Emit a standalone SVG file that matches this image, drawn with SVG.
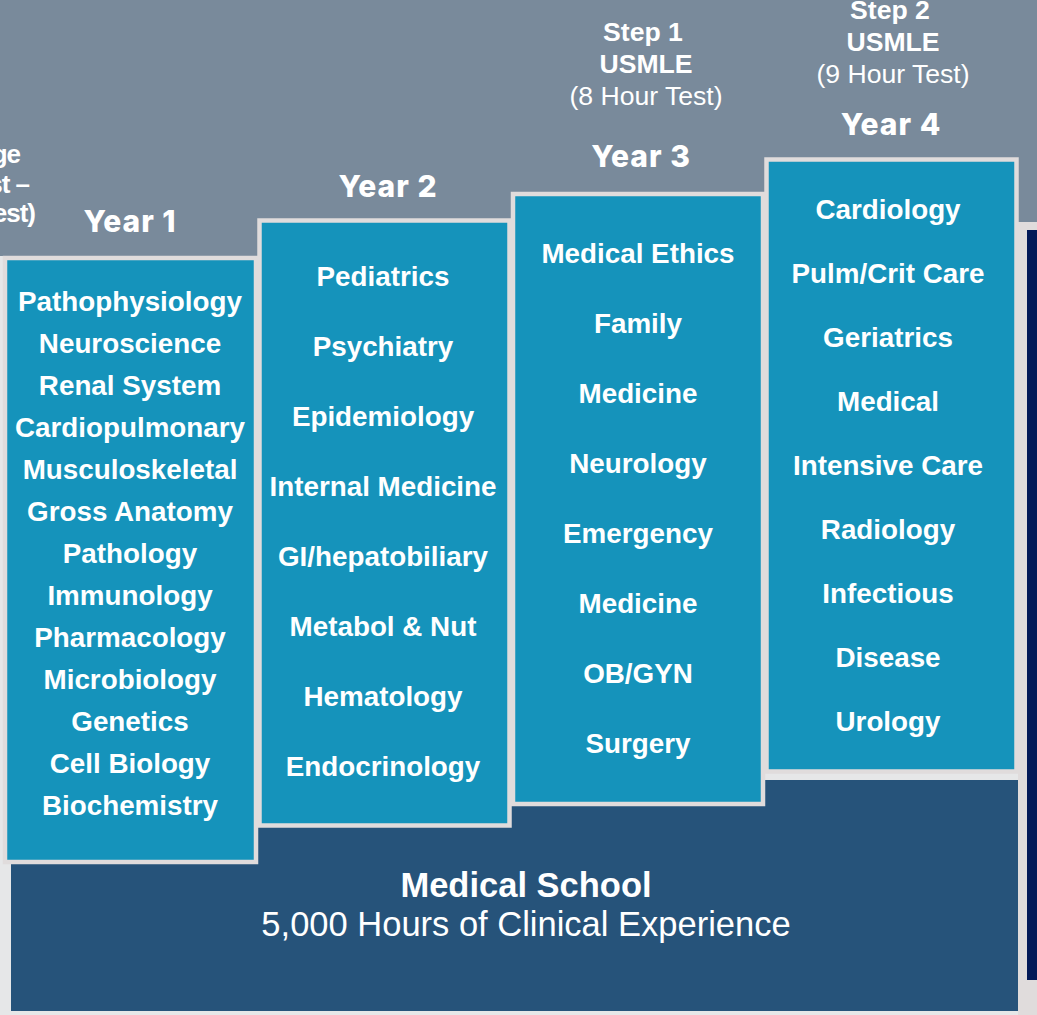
<svg xmlns="http://www.w3.org/2000/svg" width="1037" height="1015" viewBox="0 0 1037 1015">
<style>
.yr{fill:#1593bb;stroke:#e0dcdc;stroke-width:4.5}
.it{font-family:"Liberation Sans",Arial,sans-serif;font-weight:bold;font-size:27.8px;fill:#fff;text-anchor:middle}
.hd{font-family:Inter,"Liberation Sans",sans-serif;font-weight:800;font-size:30px;fill:#fff;text-anchor:middle;letter-spacing:1px}
.st{font-family:"Liberation Sans",Arial,sans-serif;font-size:26.6px;fill:#fff;text-anchor:middle}
.b{font-weight:bold}
.cut{font-family:"Liberation Sans",Arial,sans-serif;font-weight:bold;font-size:26px;fill:#fff;text-anchor:end;letter-spacing:-1px}
</style>
<rect x="0" y="0" width="1037" height="1015" fill="#798a9b"/>
<rect x="0" y="256" width="1037" height="759" fill="#e6e7e8"/>
<rect x="1018" y="222" width="19" height="793" fill="#e0dcdc"/>
<rect x="1027" y="230" width="10" height="750" fill="#031a58"/>
<g id="cut-label">
<text class="cut" x="20" y="163">ge</text>
<text class="cut" x="29" y="193">st –</text>
<text class="cut" x="35" y="222">est)</text>
</g>
<g id="medical-school">
<rect x="11" y="780" width="1007" height="231" fill="#26537a"/>
<text class="st b" x="526" y="897" style="font-size:34.5px">Medical School</text>
<text class="st" x="526" y="936" style="font-size:34.5px">5,000 Hours of Clinical Experience</text>
</g>
<g id="step1">
<text class="st b" x="643" y="41">Step 1</text>
<text class="st b" x="646" y="73">USMLE</text>
<text class="st" x="646" y="105">(8 Hour Test)</text>
</g>
<g id="step2">
<text class="st b" x="890" y="19">Step 2</text>
<text class="st b" x="893" y="51">USMLE</text>
<text class="st" x="893" y="83">(9 Hour Test)</text>
</g>
<g id="year1">
<text class="hd" x="130" y="232">Year 1</text>
<rect class="yr" x="5" y="258" width="251" height="604"/>
<text class="it" x="130" y="311">Pathophysiology</text>
<text class="it" x="130" y="353">Neuroscience</text>
<text class="it" x="130" y="395">Renal System</text>
<text class="it" x="130" y="437">Cardiopulmonary</text>
<text class="it" x="130" y="479">Musculoskeletal</text>
<text class="it" x="130" y="521">Gross Anatomy</text>
<text class="it" x="130" y="563">Pathology</text>
<text class="it" x="130" y="605">Immunology</text>
<text class="it" x="130" y="647">Pharmacology</text>
<text class="it" x="130" y="689">Microbiology</text>
<text class="it" x="130" y="731">Genetics</text>
<text class="it" x="130" y="773">Cell Biology</text>
<text class="it" x="130" y="815">Biochemistry</text>
</g>
<g id="year2">
<text class="hd" x="388" y="197">Year 2</text>
<rect class="yr" x="259.5" y="220.5" width="250" height="605"/>
<text class="it" x="383" y="286">Pediatrics</text>
<text class="it" x="383" y="356">Psychiatry</text>
<text class="it" x="383" y="426">Epidemiology</text>
<text class="it" x="383" y="496">Internal Medicine</text>
<text class="it" x="383" y="566">GI/hepatobiliary</text>
<text class="it" x="383" y="636">Metabol &amp; Nut</text>
<text class="it" x="383" y="706">Hematology</text>
<text class="it" x="383" y="776">Endocrinology</text>
</g>
<g id="year3">
<text class="hd" x="641" y="167">Year 3</text>
<rect class="yr" x="513" y="194" width="250" height="610"/>
<text class="it" x="638" y="263">Medical Ethics</text>
<text class="it" x="638" y="333">Family</text>
<text class="it" x="638" y="403">Medicine</text>
<text class="it" x="638" y="473">Neurology</text>
<text class="it" x="638" y="543">Emergency</text>
<text class="it" x="638" y="613">Medicine</text>
<text class="it" x="638" y="683">OB/GYN</text>
<text class="it" x="638" y="753">Surgery</text>
</g>
<g id="year4">
<text class="hd" x="891" y="135">Year 4</text>
<rect class="yr" x="766.5" y="159.5" width="250" height="612"/>
<text class="it" x="888" y="219">Cardiology</text>
<text class="it" x="888" y="283">Pulm/Crit Care</text>
<text class="it" x="888" y="347">Geriatrics</text>
<text class="it" x="888" y="411">Medical</text>
<text class="it" x="888" y="475">Intensive Care</text>
<text class="it" x="888" y="539">Radiology</text>
<text class="it" x="888" y="603">Infectious</text>
<text class="it" x="888" y="667">Disease</text>
<text class="it" x="888" y="731">Urology</text>
</g>
<g id="connectors"/>
</svg>
